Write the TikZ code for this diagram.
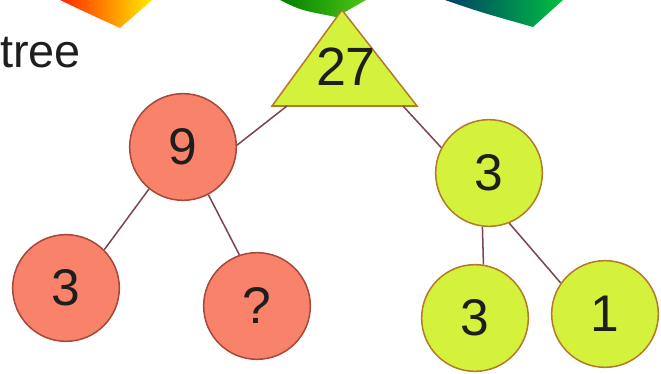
\documentclass[tikz,border=0pt]{standalone}
\usepackage{fontspec}
\setmainfont{Liberation Sans}
\usetikzlibrary{positioning}
\definecolor{salmon}   {HTML}{F9836A}
\definecolor{salmonDk} {HTML}{A8483A}
\definecolor{lime}     {HTML}{D4F23C}
\definecolor{limeDk}   {HTML}{B47A2A}
\definecolor{twigc}    {HTML}{7A4652}
\definecolor{inkc}     {HTML}{1E1E1E}

\begin{document}
\begin{tikzpicture}[x=0.03cm,y=-0.03cm,
    ball/.style={circle, line width=1.3pt, minimum size=3.2cm, inner sep=0pt,
                 text=inkc, font=\fontsize{44}{44}\selectfont},
    redball/.style={ball, draw=salmonDk, fill=salmon},
    limeball/.style={ball, draw=limeDk, fill=lime},
    branch/.style={twigc, line width=1.3pt}]
  \useasboundingbox (0,0) rectangle (661,374);

  % torn paper band along the top
  \shade[left color=red!70!orange, right color=yellow!85!orange]
    (60,0) .. controls (85,12) .. (120,28) .. controls (135,15) .. (152,0) -- cycle;
  \shade[left color=green!50!black, right color=green!55!lime!80!black]
    (280,0) .. controls (300,10) .. (336,17) .. controls (352,8) .. (366,0) -- cycle;
  \shade[left color=teal!75!blue!65!black, right color=green!50!teal]
    (445,0) .. controls (480,12) .. (533,27) .. controls (548,14) .. (563,0) -- cycle;

  \node[font=\fontsize{40}{40}\selectfont, text=inkc, anchor=base east] (ttl) at (85,68) {tree};

  % root
  \draw[draw=limeDk, fill=lime, line width=1.3pt] (342,10) -- (272,106) -- (417,106) -- cycle;
  \node[text=inkc, font=\fontsize{46}{46}\selectfont] (n27) at (346,67) {27};
  \coordinate (r27l) at (287,106);
  \coordinate (r27r) at (403,106);

  \node[redball]  (n9)  at (183,147) {9};
  \node[redball]  (n3a) at (66,288)  {3};
  \node[redball]  (nq)  at (257,306) {?};
  \node[limeball] (n3b) at (489,173) {3};
  \node[limeball] (n3c) at (475,318) {3};
  \node[limeball] (n1)  at (605,314) {1};

  \draw[branch] (r27l) -- (n9.2);
  \draw[branch] (r27r) -- (n3b.152);
  \draw[branch] (n9.-129) -- (n3a.45);
  \draw[branch] (n9.-62) -- (nq.109);
  \draw[branch] (n3b.-97) -- (n3c.81);
  \draw[branch] (n3b.-68) -- (n1.145);
\end{tikzpicture}
\end{document}
